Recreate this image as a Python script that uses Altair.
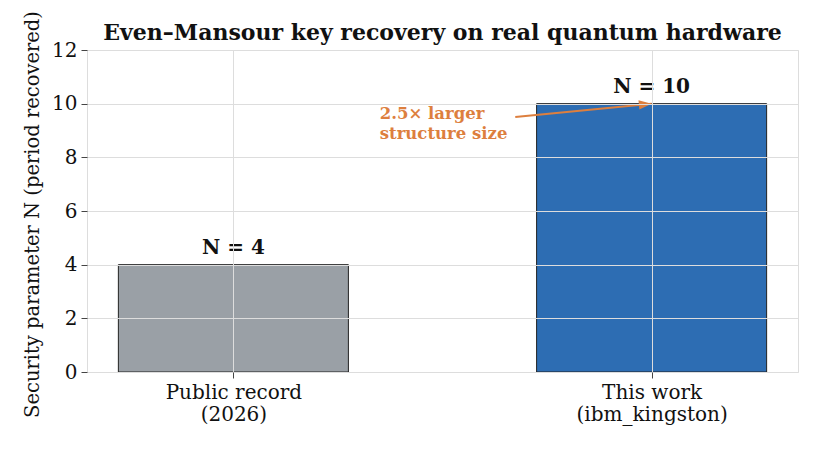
import altair as alt
import pandas as pd

# ---- data ----
positions = [0, 1]
category_lines = [["Public record", "(2026)"], ["This work", "(ibm_kingston)"]]
values = [4, 10]
bar_labels = ["N = 4", "N = 10"]
bar_colors = ["#9aa0a6", "#2d6db3"]

annot_lines = ["2.5\u00d7 larger", "structure size"]
annot_text_xy = [0.35, 9.3]
annot_tail_xy = [0.674, 9.5]
annot_tip_xy = [1.0, 10.0]

title = "Even\u2013Mansour key recovery on real quantum hardware"
y_title = "Security parameter N (period recovered)"
FONT = "DejaVu Serif"
ORANGE = "#dd7f3e"
BAR_HALF = 0.275

bars_df = pd.DataFrame({
    "pos": positions,
    "x0": [p - BAR_HALF for p in positions],
    "x1": [p + BAR_HALF for p in positions],
    "base": [0 for _ in positions],
    "value": values,
    "label": bar_labels,
    "color": bar_colors,
})

label_expr = "datum.value == {} ? {} : {}".format(
    positions[0],
    "[" + ",".join("'%s'" % s for s in category_lines[0]) + "]",
    "[" + ",".join("'%s'" % s for s in category_lines[1]) + "]",
)

xscale = alt.Scale(domain=[-0.35, 1.35], nice=False, zero=False)
yscale = alt.Scale(domain=[0, 12], nice=False)

xaxis = alt.Axis(values=positions, labelExpr=label_expr, title=None, grid=True,
                 labelFont=FONT, labelFontSize=20, labelColor="#111",
                 labelLineHeight=22, labelPadding=4, tickSize=6,
                 tickColor="#444", domain=False, zindex=1)
yaxis = alt.Axis(values=list(range(0, 13, 2)), title=y_title, grid=True,
                 labelFont=FONT, labelFontSize=20, labelColor="#111",
                 titleFont=FONT, titleFontSize=19.5, titleFontWeight="normal",
                 titleColor="#111", titlePadding=9, labelPadding=4,
                 titleY=164,
                 tickSize=6, tickColor="#444", domain=False, zindex=1)

base = alt.Chart(bars_df)

bars = base.mark_rect(stroke="#222", strokeWidth=1).encode(
    x=alt.X("x0:Q", scale=xscale, axis=xaxis),
    x2="x1:Q",
    y=alt.Y("value:Q", scale=yscale, axis=yaxis),
    y2="base:Q",
    color=alt.Color("color:N", scale=None, legend=None),
)

labels = base.mark_text(font=FONT, fontSize=20, fontWeight="bold",
                        baseline="bottom", dy=-7, color="#111").encode(
    x=alt.X("pos:Q", scale=xscale),
    y=alt.Y("value:Q", scale=yscale),
    text="label:N",
)

annot_df = pd.DataFrame({"x": [annot_text_xy[0]], "y": [annot_text_xy[1]],
                         "t": [annot_lines]})
annot_text = alt.Chart(annot_df).mark_text(
    font=FONT, fontSize=16.5, fontWeight="bold", color=ORANGE,
    align="left", baseline="middle", lineHeight=19.5, dy=-8,
).encode(x=alt.X("x:Q", scale=xscale), y=alt.Y("y:Q", scale=yscale), text="t")

arrow_df = pd.DataFrame({"x": [annot_tail_xy[0]], "y": [annot_tail_xy[1]],
                         "x2": [annot_tip_xy[0]], "y2": [annot_tip_xy[1]]})
arrow_line = alt.Chart(arrow_df).mark_rule(color=ORANGE, strokeWidth=2).encode(
    x=alt.X("x:Q", scale=xscale), y=alt.Y("y:Q", scale=yscale),
    x2="x2:Q", y2="y2:Q",
)
head_df = pd.DataFrame({"x": [annot_tip_xy[0]], "y": [annot_tip_xy[1]]})
arrow_head = alt.Chart(head_df).mark_point(
    shape="M0,0L-1,-0.36L-1,0.36Z", size=650, filled=True, color=ORANGE,
    opacity=1, angle=354.4, strokeWidth=0,
).encode(x=alt.X("x:Q", scale=xscale), y=alt.Y("y:Q", scale=yscale))

chart = alt.layer(bars, labels, annot_text, arrow_line, arrow_head).properties(
    width=711, height=322,
    title=alt.TitleParams(title, font=FONT, fontSize=22, fontWeight="bold",
                          color="#111", offset=9, anchor="middle",
                          frame="group", dy=43),
    autosize=alt.AutoSizeParams(type="none"),
    padding={"left": 79, "top": 42, "right": 14, "bottom": 55},
).configure_view(stroke="#555", strokeWidth=1.2).configure_axis(
    gridColor="#cfcfcf", gridOpacity=0.6, gridWidth=1,
).configure(background="white")

chart.save("out.html", embed_options={"renderer": "svg", "actions": False})
